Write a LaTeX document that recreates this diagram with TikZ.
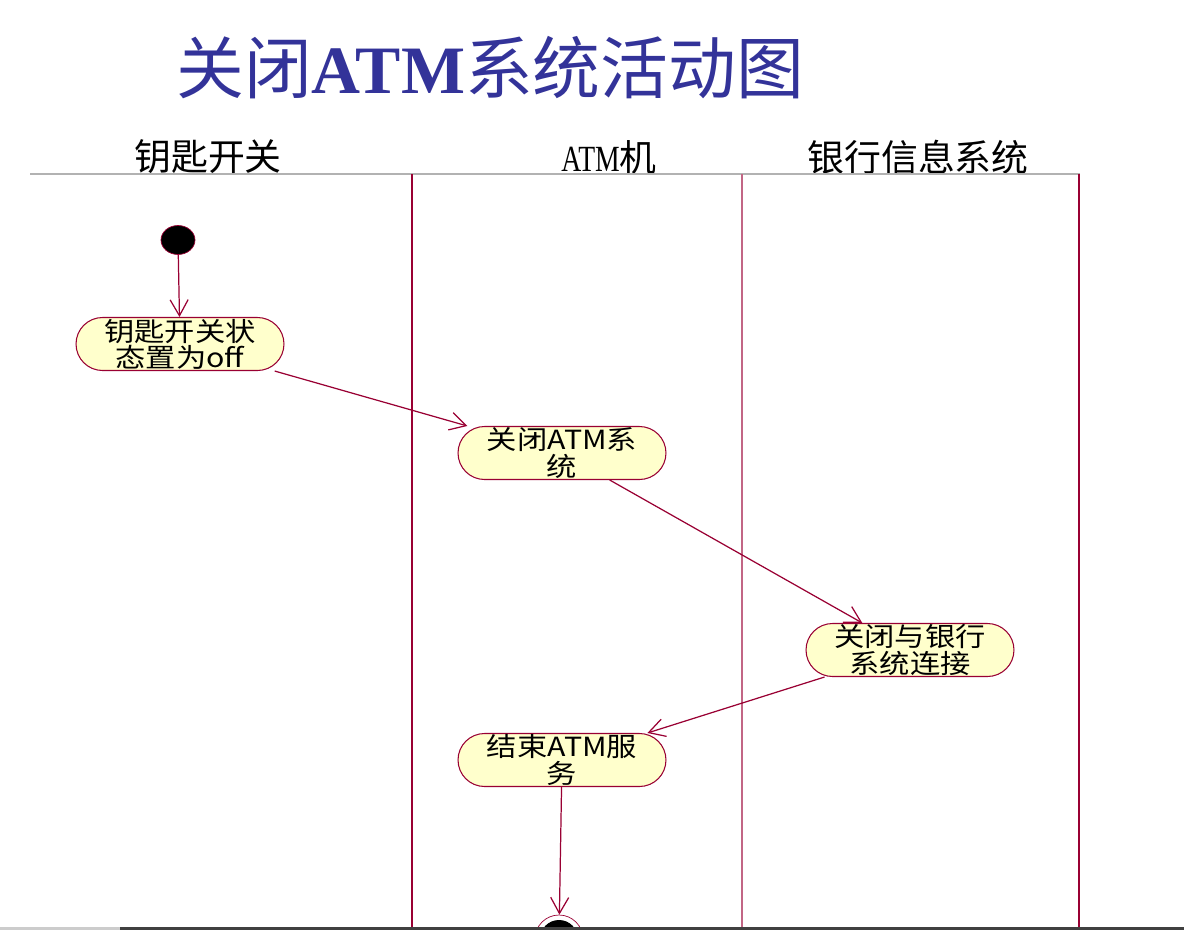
\documentclass[tikz,border=0pt]{standalone}
\usepackage{fontspec}
\setmainfont{Noto Sans CJK SC}
\newfontfamily\actcjk[FakeStretch=1.15]{Noto Sans CJK SC}
\newfontfamily\titlelatin{Liberation Serif}
\usetikzlibrary{arrows.meta,shapes.geometric}
\definecolor{lanecol}{HTML}{990033}
\definecolor{actfill}{HTML}{FFFFCC}
\definecolor{titleblue}{HTML}{333399}
\newcommand\actfont{\actcjk\fontsize{15}{14.9}\selectfont\lineskiplimit=-30pt\relax}
\tikzset{
	activity/.style={rectangle, rounded corners=0.53cm, draw=lanecol, fill=actfill, line width=0.6pt,
		minimum width=4.16cm, minimum height=1.06cm, inner xsep=0pt, inner ysep=-8pt,
		align=center, font=\actfont},
	startdot/.style={ellipse, draw=lanecol, fill=black, minimum width=0.68cm, minimum height=0.58cm, inner sep=0pt},
	enddot/.style={circle, draw=lanecol, fill=white, minimum size=0.96cm, inner sep=0pt,
		path picture={\fill[black] (path picture bounding box.center) circle (0.38cm);}},
	flow/.style={draw=lanecol, line width=0.7pt, -{Straight Barb[length=0.32cm,width=0.36cm]}},
	lanehead/.style={font=\fontsize{21}{21}\selectfont}
}

\begin{document}
\begin{tikzpicture}[x=0.02cm, y=-0.02cm]
	%%%%% START %%%%%
	\useasboundingbox (0,0) rectangle (1184,930);
	
	\node[anchor=west, inner sep=0pt, text=titleblue, font=\fontsize{38.6}{38.6}\selectfont] (title) at (176,68)
		{关闭{\titlelatin\bfseries ATM}系统活动图};
	
	% swimlanes
	\node[lanehead] (lanekey) at (208,157) {钥匙开关};
	\node[lanehead] (laneatm) at (609,157) {\scalebox{0.75}[1]{\titlelatin ATM}机};
	\node[lanehead] (lanebank) at (918,157) {银行信息系统};
	
	\draw[black!30, line width=0.8pt] (30,174) -- (1080,174);
	\draw[lanecol, line width=0.6pt] (412,174) -- (412,930);
	\draw[lanecol!60, line width=0.6pt] (742,174) -- (742,930);
	\draw[lanecol, line width=0.6pt] (1079,174) -- (1079,930);
	
	% activities
	\node[startdot] (start) at (178,240) {};
	\node[activity] (keyoff) at (180,344) {钥匙开关状\\态置为off};
	\node[activity] (closeatm) at (562,453) {关闭ATM系\\统};
	\node[activity] (closebank) at (910,650) {关闭与银行\\系统连接};
	\node[activity] (endserv) at (562,760) {结束ATM服\\务};
	\node[enddot] (finish) at (559,939) {};
	
	\draw[flow] (start) -- (keyoff);
	\draw[flow] (keyoff) -- (closeatm);
	\draw[flow] (closeatm) -- (closebank);
	\draw[flow] (closebank) -- (endserv);
	\draw[flow] (endserv) -- (finish);
	
	% bottom edge
	\fill[black!20] (0,927) rectangle (120,930);
	\fill[black!75] (120,927) rectangle (1184,930);
	%%%%% END %%%%%
\end{tikzpicture}
\end{document}
